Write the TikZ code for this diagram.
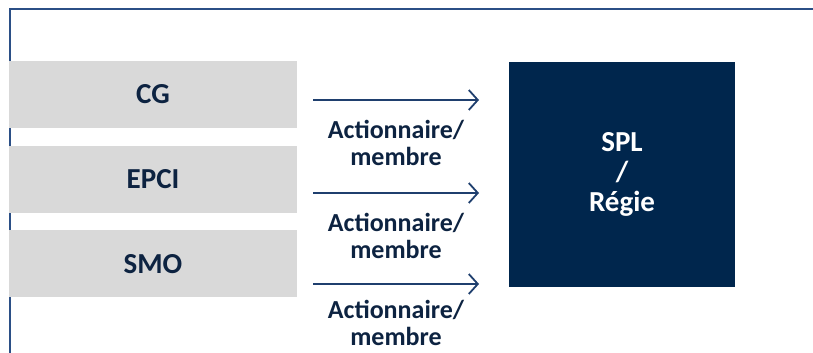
\documentclass[tikz,border=0pt]{standalone}
\usepackage{fontspec}
\setmainfont{Carlito}
\usepackage{tikz}
\usetikzlibrary{positioning,arrows.meta}
\definecolor{splNavy}{HTML}{00264D}
\definecolor{splInk}{HTML}{0D2341}
\definecolor{splArrow}{HTML}{1F3F6E}
\definecolor{splFrame}{HTML}{2B4F86}
\definecolor{splGrey}{HTML}{D9D9D9}
\tikzset{
  memberbox/.style={
    fill=splGrey, draw=none, minimum width=288pt, minimum height=67pt,
    inner sep=0pt, font=\bfseries\fontsize{29}{31}\selectfont, text=splInk
  },
  splbox/.style={
    fill=splNavy, draw=none, minimum width=226pt, minimum height=225pt,
    inner sep=0pt, align=center, text=white,
    font=\bfseries\fontsize{29}{30}\selectfont
  },
  linklabel/.style={
    align=center, inner sep=0pt, text=splInk,
    font=\bfseries\fontsize{26}{27}\selectfont
  },
  linkarrow/.style={
    draw=splArrow, line width=1.8pt,
    -{Straight Barb[length=9pt,width=20pt,line width=1.8pt]}
  },
}

\begin{document}
\begin{tikzpicture}[x=1pt,y=1pt]
\useasboundingbox (0,0) rectangle (813,353);

% --- frame ------------------------------------------------------------------
\coordinate (frameTL) at (10,344);
\coordinate (frameTR) at (813,344);
\coordinate (frameBL) at (10,0);
\draw[splFrame,line width=2.5pt] (frameTR) -- (frameTL) -- (frameBL);

% --- target -----------------------------------------------------------------
\node[splbox] (spl) at (622,178.5) {SPL\\/\\Régie};

% --- members, arrows and labels ---------------------------------------------
\foreach \nm/\lbl/\yb/\ya/\yl in {%
    cg/CG/258.5/253/210,%
    epci/EPCI/173.5/160/117,%
    smo/SMO/89/69/30}{%
  \node[memberbox] (\nm) at (153,\yb) {\lbl};
  \coordinate (\nm-from) at (313,\ya);
  \coordinate (\nm-to) at (479,\ya);
  \draw[linkarrow] (\nm-from) -- (\nm-to);
  \node[linklabel] (\nm-lab) at (396,\yl) {Actionnaire/\\membre};
}

\end{tikzpicture}
\end{document}
